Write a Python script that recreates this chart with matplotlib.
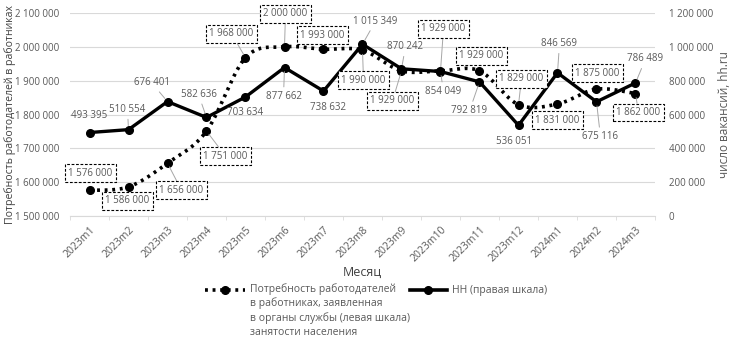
import numpy as np
import matplotlib
matplotlib.use("Agg")
import matplotlib.pyplot as plt
from matplotlib.lines import Line2D

plt.rcParams['font.family'] = ['Open Sans', 'DejaVu Sans']

# ---------------- data ----------------
months = ["2023m1", "2023m2", "2023m3", "2023m4", "2023m5", "2023m6", "2023m7",
          "2023m8", "2023m9", "2023m10", "2023m11", "2023m12", "2024m1", "2024m2", "2024m3"]
employer_need = [1576000, 1586000, 1656000, 1751000, 1968000, 2000000, 1993000,
                 1990000, 1929000, 1929000, 1929000, 1829000, 1831000, 1875000, 1862000]
hh_vacancies = [493395, 510554, 676401, 582636, 703634, 877662, 738632,
                1015349, 870242, 854049, 792819, 536051, 846569, 675116, 786489]

left_ticks = [1500000, 1600000, 1700000, 1800000, 1900000, 2000000, 2100000]
right_ticks = [0, 200000, 400000, 600000, 800000, 1000000, 1200000]

legend_need = "Потребность работодателей\nв работниках, заявленная\nв органы службы (левая шкала)\nзанятости населения"
legend_hh = "HH (правая шкала)"

# label offsets (pixels) - layout only
need_off = [(1, 17), (-1, -14), (14, -27), (19, -25), (-14, 24), (1, 33), (-1, 14),
            (1, -30), (-9, -30), (3, 42), (2, 15), (3, 26), (0, -16), (1, 16), (3, -19)]
hh_off = [(0, 17), (-1, 20), (-16, 19), (-8, 23), (0, -16), (-1, -29), (5, -16),
          (13, 23), (4, 22), (3, -20), (-10, -29), (-4, -16), (2, 29), (4, -35), (10, 24)]

def fmt(v):
    return f"{int(v):,}".replace(",", " ")

GRAY_TXT = "#595959"
W, H = 734, 338
fig = plt.figure(figsize=(W / 100, H / 100), dpi=100)
ax = fig.add_axes([70 / W, 1 - 216 / H, 585 / W, 203 / H])
ax2 = ax.twinx()

x = np.arange(len(months))
ax.set_xlim(-0.5, len(months) - 0.5)
ax.set_ylim(left_ticks[0], left_ticks[-1])
ax2.set_ylim(right_ticks[0], right_ticks[-1])

# smooth curve (Excel-like) computed in display space
pts = ax.transData.transform(np.column_stack([x, employer_need]))
P = np.vstack([pts[0], pts, pts[-1]])
curve = []
for i in range(1, len(P) - 2):
    p0, p1, p2, p3 = P[i - 1], P[i], P[i + 1], P[i + 2]
    c1 = p1 + (p2 - p0) / 6
    c2 = p2 - (p3 - p1) / 6
    t = np.linspace(0, 1, 30)[:, None]
    seg = (1 - t) ** 3 * p1 + 3 * (1 - t) ** 2 * t * c1 + 3 * (1 - t) * t ** 2 * c2 + t ** 3 * p2
    curve.append(seg if i == 1 else seg[1:])
curve = np.vstack(curve)
cdata = ax.transData.inverted().transform(curve)

DOT = (0, (0.8, 1.3))
ax.plot(cdata[:, 0], cdata[:, 1], color="black", lw=2.6, linestyle=DOT,
        dash_capstyle="butt", zorder=2)
ax.plot(x, employer_need, linestyle="none", marker="o", ms=5.5, color="black", zorder=3)

ax2.plot(x, hh_vacancies, color="black", lw=2.4, marker="o", ms=5.5, zorder=3)

# axes styling
ax.set_yticks(left_ticks)
ax.set_yticklabels([fmt(v) for v in left_ticks])
ax2.set_yticks(right_ticks)
ax2.set_yticklabels([fmt(v) for v in right_ticks])
ax.grid(axis="y", color="#d9d9d9", lw=0.8)
ax.set_axisbelow(True)
for a in (ax, ax2):
    for s in a.spines.values():
        s.set_visible(False)
ax.spines["bottom"].set_visible(True)
ax.spines["bottom"].set_color("#d9d9d9")
ax.tick_params(axis="y", length=0, labelsize=7, labelcolor=GRAY_TXT, pad=8)
ax2.tick_params(axis="y", length=0, labelsize=7, labelcolor=GRAY_TXT, pad=10)
ax.set_xticks(x)
ax.set_xticklabels(months, rotation=45, ha="right", va="top", rotation_mode="anchor",
                   fontsize=7.5, color=GRAY_TXT)
ax.tick_params(axis="x", length=0, pad=6)
ax.set_xticks(np.arange(-0.5, len(months), 1), minor=True)
ax.tick_params(axis="x", which="minor", length=3, color="#d9d9d9")

ax.set_xlabel("Месяц", fontsize=9, color="#404040", labelpad=1)
ax.set_ylabel("Потребность работодателей в работниках", fontsize=7.6, color="#404040",
              va="center")
ax.yaxis.set_label_coords(-0.103, 0.5)
ax2.set_ylabel("число вакансий, hh.ru", fontsize=8.5, color="#595959", va="center")
ax2.yaxis.set_label_coords(1.119, 0.5)

# data labels
for i, v in enumerate(employer_need):
    dx, dy = need_off[i]
    ax2.annotate(fmt(v), xy=(x[i], v), xycoords=ax.transData, xytext=(dx, dy),
                 textcoords="offset pixels", ha="center", va="center", fontsize=7,
                 color=GRAY_TXT, zorder=5,
                 bbox=dict(boxstyle="square,pad=0.35", fc="white", ec="black", lw=0.8, ls=(0, (2.5, 1.5))),
                 arrowprops=dict(arrowstyle="-", color="#a6a6a6", lw=0.7, shrinkA=0, shrinkB=3)
                 if abs(dy) > 18 or abs(dx) > 10 else None)
for i, v in enumerate(hh_vacancies):
    dx, dy = hh_off[i]
    ax2.annotate(fmt(v), xy=(x[i], v), xycoords="data", xytext=(dx, dy),
                 textcoords="offset pixels", ha="center", va="center", fontsize=7,
                 color=GRAY_TXT, zorder=5,
                 arrowprops=dict(arrowstyle="-", color="#a6a6a6", lw=0.7, shrinkA=1, shrinkB=3)
                 if abs(dy) > 18 or abs(dx) > 10 else None)

# legend (manual, handles aligned with the first text line)
def fx(px):
    return px / W

def fy(py):
    return 1 - py / H

fig.add_artist(Line2D([fx(205), fx(245)], [fy(290), fy(290)], color="black", lw=2.6, linestyle=DOT))
fig.add_artist(Line2D([fx(225)], [fy(290)], color="black", marker="o", ms=5.5, linestyle="none"))
fig.text(fx(250), fy(283), legend_need, ha="left", va="top", fontsize=7.5, color=GRAY_TXT,
         linespacing=1.33)
fig.add_artist(Line2D([fx(410), fx(447)], [fy(290), fy(290)], color="black", lw=2.6))
fig.add_artist(Line2D([fx(428)], [fy(290)], color="black", marker="o", ms=5.5, linestyle="none"))
fig.text(fx(452), fy(290), legend_hh, ha="left", va="center", fontsize=7.5, color=GRAY_TXT)

fig.savefig("out.png", dpi=100)
